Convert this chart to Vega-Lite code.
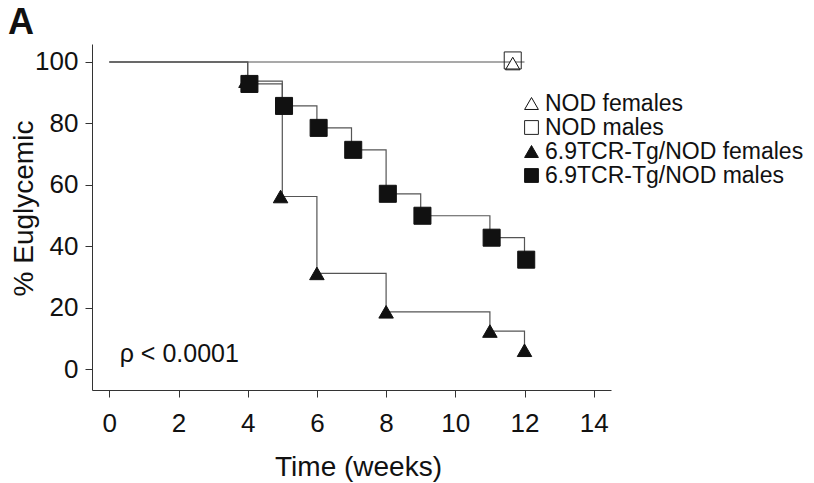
{
  "$schema": "https://vega.github.io/schema/vega-lite/v6.json",
  "autosize": {"type": "none"},
  "width": 519,
  "height": 346,
  "padding": {"left": 92, "top": 44, "right": 203, "bottom": 93},
  "background": "white",
  "title": {"text": "A", "anchor": "start", "frame": "group", "dx": -84, "dy": 26, "offset": 0, "baseline": "alphabetic", "fontSize": 36, "fontWeight": "bold", "font": "Liberation Sans", "color": "#111"},
  "config": {
    "view": {"stroke": null},
    "font": "Liberation Sans",
    "axis": {"domainColor": "#333", "tickColor": "#333", "labelColor": "#111", "titleColor": "#111", "labelFont": "Liberation Sans", "titleFont": "Liberation Sans", "titleFontWeight": "normal", "grid": false, "labelFlush": false, "labelOverlap": false},
    "legend": {"labelFont": "Liberation Sans", "labelFontSize": 23, "labelColor": "#111", "labelLimit": 0, "symbolSize": 190, "symbolStrokeWidth": 1, "rowPadding": -1, "labelOffset": 2, "orient": "none", "legendX": 428, "legendY": 48, "padding": 0}
  },
  "datasets": {
    "lines": [
      {"group": "NOD", "week": 0, "pct": 100},
      {"group": "NOD", "week": 12, "pct": 100},
      {"group": "TgF", "week": 0, "pct": 100},
      {"group": "TgF", "week": 4, "pct": 93.75},
      {"group": "TgF", "week": 5, "pct": 56.25},
      {"group": "TgF", "week": 6, "pct": 31.25},
      {"group": "TgF", "week": 8, "pct": 18.75},
      {"group": "TgF", "week": 11, "pct": 12.5},
      {"group": "TgF", "week": 12, "pct": 6.25},
      {"group": "TgM", "week": 0, "pct": 100},
      {"group": "TgM", "week": 4, "pct": 92.86},
      {"group": "TgM", "week": 5, "pct": 85.71},
      {"group": "TgM", "week": 6, "pct": 78.57},
      {"group": "TgM", "week": 7, "pct": 71.43},
      {"group": "TgM", "week": 8, "pct": 57.14},
      {"group": "TgM", "week": 9, "pct": 50},
      {"group": "TgM", "week": 11, "pct": 42.86},
      {"group": "TgM", "week": 12, "pct": 35.71}
    ],
    "markers": [
      {"group": "NOD females", "kind": "tri", "week": 11.66, "pct": 99.5},
      {"group": "6.9TCR-Tg/NOD females", "kind": "tri", "week": 3.95, "pct": 93.75},
      {"group": "6.9TCR-Tg/NOD females", "kind": "tri", "week": 4.95, "pct": 56.25},
      {"group": "6.9TCR-Tg/NOD females", "kind": "tri", "week": 6, "pct": 31.25},
      {"group": "6.9TCR-Tg/NOD females", "kind": "tri", "week": 8, "pct": 18.75},
      {"group": "6.9TCR-Tg/NOD females", "kind": "tri", "week": 11, "pct": 12.5},
      {"group": "6.9TCR-Tg/NOD females", "kind": "tri", "week": 12, "pct": 6.25},
      {"group": "NOD males", "kind": "sq", "week": 11.66, "pct": 100.5},
      {"group": "6.9TCR-Tg/NOD males", "kind": "sq", "week": 4.05, "pct": 92.86},
      {"group": "6.9TCR-Tg/NOD males", "kind": "sq", "week": 5.05, "pct": 85.71},
      {"group": "6.9TCR-Tg/NOD males", "kind": "sq", "week": 6.05, "pct": 78.57},
      {"group": "6.9TCR-Tg/NOD males", "kind": "sq", "week": 7.05, "pct": 71.43},
      {"group": "6.9TCR-Tg/NOD males", "kind": "sq", "week": 8.05, "pct": 57.14},
      {"group": "6.9TCR-Tg/NOD males", "kind": "sq", "week": 9.05, "pct": 50},
      {"group": "6.9TCR-Tg/NOD males", "kind": "sq", "week": 11.05, "pct": 42.86},
      {"group": "6.9TCR-Tg/NOD males", "kind": "sq", "week": 12.05, "pct": 35.71}
    ],
    "notes": [
      {"label": "ρ < 0.0001", "week": 0.3, "pct": 2.4}
    ]
  },
  "layer": [
    {
      "data": {"name": "lines"},
      "mark": {"type": "line", "interpolate": "step-after", "color": "#555", "strokeWidth": 1.2},
      "encoding": {
        "x": {"field": "week", "type": "quantitative", "scale": {"domain": [-0.5, 14.5], "nice": false, "zero": false},
          "axis": {"title": "Time (weeks)", "values": [0,0.5,1,1.5,2,2.5,3,3.5,4,4.5,5,5.5,6,6.5,7,7.5,8,8.5,9,9.5,10,10.5,11,11.5,12,12.5,13,13.5,14,14.5],
            "labelExpr": "datum.value % 2 === 0 ? datum.label : ''",
            "tickSize": {"condition": {"test": "datum.value % 2 === 0", "value": 7}, "value": 4},
            "labelFontSize": 26, "labelPadding": 13, "titleFontSize": 28, "titleX": 266, "titleY": 85, "titleBaseline": "alphabetic", "titleAlign": "center"}},
        "y": {"field": "pct", "type": "quantitative", "scale": {"domain": [-6.67, 105.85], "nice": false, "zero": false},
          "axis": {"title": "% Euglycemic", "values": [0,10,20,30,40,50,60,70,80,90,100],
            "labelExpr": "datum.value % 20 === 0 ? datum.label : ''",
            "tickSize": {"condition": {"test": "datum.value % 20 === 0", "value": 7}, "value": 4},
            "labelFontSize": 26, "labelPadding": 7, "titleFontSize": 28, "titleX": -60, "titleY": 164, "titleAngle": -90, "titleBaseline": "alphabetic", "titleAlign": "center"}},
        "detail": {"field": "group"}
      }
    },
    {
      "data": {"name": "markers"},
      "transform": [{"filter": "datum.kind === 'tri'"}],
      "mark": {"type": "point", "filled": true, "strokeWidth": 1, "opacity": 1, "size": 210},
      "encoding": {
        "x": {"field": "week", "type": "quantitative"},
        "y": {"field": "pct", "type": "quantitative"},
        "shape": {"field": "group", "type": "nominal",
          "scale": {"domain": ["NOD females", "NOD males", "6.9TCR-Tg/NOD females", "6.9TCR-Tg/NOD males"], "range": ["triangle-up", "square", "triangle-up", "square"]},
          "legend": {"title": null}},
        "fill": {"field": "group", "type": "nominal",
          "scale": {"domain": ["NOD females", "NOD males", "6.9TCR-Tg/NOD females", "6.9TCR-Tg/NOD males"], "range": ["white", "transparent", "#111", "#111"]},
          "legend": {"title": null}},
        "stroke": {"field": "group", "type": "nominal",
          "scale": {"domain": ["NOD females", "NOD males", "6.9TCR-Tg/NOD females", "6.9TCR-Tg/NOD males"], "range": ["#111", "#222", "#111", "#111"]},
          "legend": {"title": null}}
      }
    },
    {
      "data": {"name": "markers"},
      "transform": [{"filter": "datum.kind === 'sq'"}],
      "mark": {"type": "point", "filled": true, "strokeWidth": 1, "opacity": 1, "size": 290},
      "encoding": {
        "x": {"field": "week", "type": "quantitative"},
        "y": {"field": "pct", "type": "quantitative"},
        "shape": {"field": "group", "type": "nominal", "legend": {"title": null}},
        "fill": {"field": "group", "type": "nominal", "legend": {"title": null}},
        "stroke": {"field": "group", "type": "nominal", "legend": {"title": null}}
      }
    },
    {
      "data": {"name": "notes"},
      "mark": {"type": "text", "align": "left", "baseline": "alphabetic", "fontSize": 25, "font": "Liberation Sans", "color": "#111"},
      "encoding": {
        "x": {"field": "week", "type": "quantitative"},
        "y": {"field": "pct", "type": "quantitative"},
        "text": {"field": "label"}
      }
    }
  ]
}
